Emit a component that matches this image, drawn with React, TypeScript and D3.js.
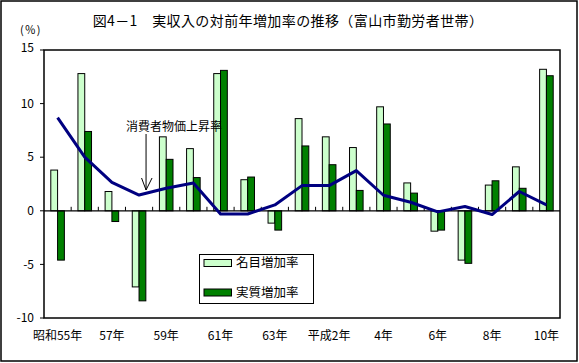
import React, { useEffect, useRef } from 'react';
import * as d3 from 'd3';

const years = [
  '昭和55年', '56年', '57年', '58年', '59年', '60年', '61年', '62年', '63年',
  '平成元年', '平成2年', '3年', '4年', '5年', '6年', '7年', '8年', '9年', '10年',
];
const shownLabels = ['昭和55年', '57年', '59年', '61年', '63年', '平成2年', '4年', '6年', '8年', '10年'];
const nominal = [3.8, 12.8, 1.8, -7.1, 6.9, 5.8, 12.8, 2.9, -1.15, 8.6, 6.9, 5.9, 9.7, 2.6, -1.9, -4.6, 2.4, 4.1, 13.2];
const real = [-4.6, 7.4, -1.0, -8.4, 4.8, 3.1, 13.1, 3.15, -1.8, 6.05, 4.3, 1.9, 8.1, 1.65, -1.8, -4.9, 2.8, 2.1, 12.6];
const cpi = [8.7, 5.0, 2.65, 1.47, 2.1, 2.6, -0.3, -0.3, 0.55, 2.35, 2.35, 3.75, 1.45, 0.8, -0.1, 0.4, -0.35, 1.8, 0.55];
const yTicks = [-10, -5, 0, 5, 10, 15];

const W = 579;
const H = 363;
const FONT = '"Noto Sans CJK JP", sans-serif';

export default function App() {
  const svgRef = useRef<SVGSVGElement | null>(null);

  useEffect(() => {
    if (!svgRef.current) return;
    const svg = d3.select(svgRef.current);
    svg.selectAll('*').remove();

    const left = 44, right = 560, top = 50, bottom = 318;

    const x = d3.scaleBand<string>().domain(years).range([left, right]).padding(0);
    const y = d3.scaleLinear().domain([-10, 15]).range([bottom, top]);
    const bw = x.bandwidth() / 4;
    const cx = (d: string) => (x(d) as number) + x.bandwidth() / 2;

    // outer frame
    svg.append('rect')
      .attr('x', 1).attr('y', 1).attr('width', W - 3).attr('height', H - 3)
      .attr('fill', '#fff').attr('stroke', '#000').attr('stroke-width', 1.5);

    // title
    svg.append('text')
      .attr('x', 288).attr('y', 26)
      .attr('text-anchor', 'middle')
      .attr('font-family', FONT).attr('font-size', 14)
      .attr('letter-spacing', 0.4)
      .text('図4－1　実収入の対前年増加率の推移（富山市勤労者世帯）');

    svg.append('text')
      .attr('x', 20).attr('y', 33.5)
      .attr('font-family', FONT).attr('font-size', 11)
      .attr('letter-spacing', 1)
      .text('(％)');

    // plot area
    svg.append('rect')
      .attr('x', left).attr('y', top).attr('width', right - left).attr('height', bottom - top)
      .attr('fill', '#fff').attr('stroke', '#000').attr('stroke-width', 1.5);

    // y ticks
    const yg = svg.append('g');
    yTicks.forEach(t => {
      yg.append('line')
        .attr('x1', left - 4).attr('x2', left).attr('y1', y(t)).attr('y2', y(t))
        .attr('stroke', '#000');
      yg.append('text')
        .attr('x', 34).attr('y', t === 15 ? y(t) - 2 : y(t)).attr('dy', '0.35em')
        .attr('text-anchor', 'end')
        .attr('font-family', FONT).attr('font-size', 12)
        .text(String(t));
    });

    // bars
    svg.append('g').selectAll('rect').data(years).join('rect')
      .attr('x', d => cx(d) - bw)
      .attr('width', bw)
      .attr('y', (_, i) => y(Math.max(0, nominal[i])))
      .attr('height', (_, i) => Math.abs(y(nominal[i]) - y(0)))
      .attr('fill', '#CCFFCC').attr('stroke', '#000').attr('stroke-width', 1);

    svg.append('g').selectAll('rect').data(years).join('rect')
      .attr('x', d => cx(d))
      .attr('width', bw)
      .attr('y', (_, i) => y(Math.max(0, real[i])))
      .attr('height', (_, i) => Math.abs(y(real[i]) - y(0)))
      .attr('fill', '#008000').attr('stroke', '#000').attr('stroke-width', 1);

    // zero axis with ticks
    svg.append('line')
      .attr('x1', left).attr('x2', right).attr('y1', y(0)).attr('y2', y(0))
      .attr('stroke', '#000').attr('stroke-width', 1.2);
    years.forEach((d, i) => {
      if (i === 0) return;
      const xx = x(d) as number;
      svg.append('line')
        .attr('x1', xx).attr('x2', xx).attr('y1', y(0)).attr('y2', y(0) - 4)
        .attr('stroke', '#000');
    });

    // cpi line
    const line = d3.line<number>()
      .x((_, i) => cx(years[i]))
      .y(d => y(d));
    svg.append('path')
      .datum(cpi)
      .attr('d', line)
      .attr('fill', 'none').attr('stroke', '#000080').attr('stroke-width', 3)
      .attr('stroke-linejoin', 'round');

    // annotation
    svg.append('text')
      .attr('x', 126).attr('y', 131)
      .attr('font-family', FONT).attr('font-size', 12)
      .text('消費者物価上昇率');
    const ax = cx(years[3]) + 7;
    svg.append('line')
      .attr('x1', ax).attr('x2', ax).attr('y1', 134).attr('y2', 190)
      .attr('stroke', '#000');
    svg.append('path')
      .attr('d', `M${ax - 4.5},178 L${ax},190 L${ax + 6},178`)
      .attr('fill', 'none').attr('stroke', '#000');

    // x labels
    years.forEach(d => {
      if (!shownLabels.includes(d)) return;
      svg.append('text')
        .attr('x', cx(d)).attr('y', 336).attr('dy', '0.35em')
        .attr('text-anchor', 'middle')
        .attr('font-family', FONT).attr('font-size', 12)
        .text(d);
    });

    // legend
    const lg = svg.append('g');
    lg.append('rect')
      .attr('x', 199.5).attr('y', 254.5).attr('width', 114).attr('height', 49)
      .attr('fill', '#fff').attr('stroke', '#000');
    const items = [
      { label: '名目増加率', color: '#CCFFCC', yy: 263 },
      { label: '実質増加率', color: '#008000', yy: 292.5 },
    ];
    items.forEach(it => {
      lg.append('rect')
        .attr('x', 204).attr('y', it.yy - 3.5).attr('width', 27.5).attr('height', 7)
        .attr('fill', it.color).attr('stroke', '#000');
      lg.append('text')
        .attr('x', 236).attr('y', it.yy).attr('dy', '0.35em')
        .attr('font-family', FONT).attr('font-size', 12.5)
        .text(it.label);
    });
  }, []);

  return (
    <svg
      ref={svgRef}
      width={W}
      height={H}
      style={{ position: 'absolute', left: 0, top: 0, background: '#fff' }}
    />
  );
}
